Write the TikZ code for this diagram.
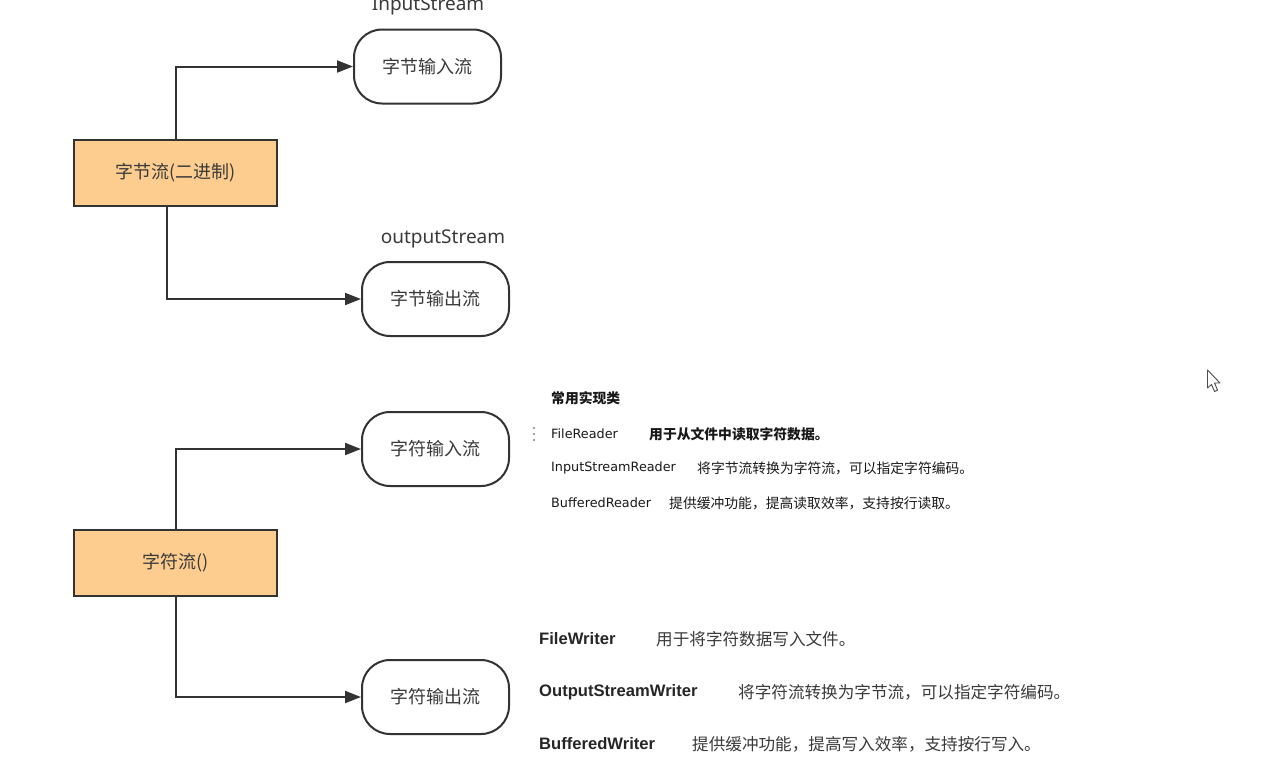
\documentclass[tikz,border=0pt]{standalone}
\usepackage{fontspec}
\setmainfont{Noto Sans CJK SC}
\newfontfamily\cjk{Noto Sans CJK SC}
\newfontfamily\latw{Liberation Sans}
\newfontfamily\dvs{DejaVu Sans}
\newfontfamily\nsans{Noto Sans}
\usetikzlibrary{arrows.meta}
\definecolor{boxfill}{HTML}{FDCD8F}
\definecolor{ink}{HTML}{333333}
\definecolor{txt}{HTML}{3A3A3A}
\begin{document}
\begin{tikzpicture}[x=1pt,y=-1pt,
  catbox/.style={draw=ink,line width=2pt,fill=boxfill,minimum width=203pt,minimum height=66pt,inner sep=0pt,text=txt,font=\cjk\fontsize{18}{20}\selectfont},
  roundbox/.style={draw=ink,line width=2pt,fill=white,rounded corners=28pt,minimum width=147pt,minimum height=74pt,inner sep=0pt,text=txt,font=\cjk\fontsize{18}{20}\selectfont},
  streamlbl/.style={text=txt,font=\nsans\fontsize{19}{21}\selectfont,inner sep=0pt},
  conn/.style={draw=ink,line width=2pt,-{Triangle[length=16pt,width=12pt]}},
  smallname/.style={anchor=west,inner sep=0pt,text=black!90,font=\dvs\fontsize{12.8}{14}\selectfont},
  smalldesc/.style={anchor=west,inner sep=0pt,text=black!90,font=\cjk\fontsize{13.8}{15}\selectfont},
  bigname/.style={anchor=west,inner sep=0pt,text=black!85,font=\latw\bfseries\fontsize{16.6}{18}\selectfont},
  bigdesc/.style={anchor=west,inner sep=0pt,text=txt,font=\cjk\fontsize{16.6}{19}\selectfont}
]
\useasboundingbox[fill=white] (0,0) rectangle (1268,774);

% top group
\node[catbox] (b1) at (175.5,173) {字节流(二进制)};
\node[roundbox] (n1) at (427.5,66.5) {字节输入流};
\node[roundbox] (n2) at (435.5,299) {字节输出流};
\node[streamlbl] (l1) at (428,6) {InputStream};
\node[streamlbl] (l2) at (443,239) {outputStream};
\draw[conn] (b1.north) |- (n1.west);
\draw[conn] ([xshift=-8.5pt]b1.south) |- (n2.west);

% bottom group
\node[catbox] (b2) at (175.5,563) {字符流()};
\node[roundbox] (n3) at (435.5,449) {字符输入流};
\node[roundbox] (n4) at (435.5,697) {字符输出流};
\draw[conn] (b2.north) |- (n3.west);
\draw[conn] (b2.south) |- (n4.west);

% reader list
\node[anchor=west,inner sep=0pt,text=black!90,font=\cjk\bfseries\fontsize{13.8}{15}\selectfont] (h1) at (551,398) {常用实现类};
\node[smallname] (r1) at (551,434) {FileReader};
\node[smalldesc,font=\cjk\bfseries\fontsize{13.8}{15}\selectfont] (r1d) at (649,434) {用于从文件中读取字符数据。};
\node[smallname] (r2) at (551,468) {InputStreamReader};
\node[smalldesc] (r2d) at (697,468) {将字节流转换为字符流，可以指定字符编码。};
\node[smallname] (r3) at (551,503) {BufferedReader};
\node[smalldesc] (r3d) at (669,503) {提供缓冲功能，提高读取效率，支持按行读取。};
\foreach \yy in {428,434,440} \fill[gray] (534,\yy) circle (1.1pt);

% writer list
\node[bigname] (w1) at (539,639) {FileWriter};
\node[bigdesc] (w1d) at (656,639) {用于将字符数据写入文件。};
\node[bigname] (w2) at (539,692) {OutputStreamWriter};
\node[bigdesc] (w2d) at (738,692) {将字符流转换为字节流，可以指定字符编码。};
\node[bigname] (w3) at (539,744) {BufferedWriter};
\node[bigdesc] (w3d) at (692,744) {提供缓冲功能，提高写入效率，支持按行写入。};

% mouse cursor
\draw[black!70,fill=white,line width=0.9pt,line join=round] (1207.5,370) -- (1207.5,388) -- (1211.5,384.5) -- (1214.5,391.5) -- (1217.5,390) -- (1214.5,383) -- (1220,383) -- cycle;
\end{tikzpicture}
\end{document}
